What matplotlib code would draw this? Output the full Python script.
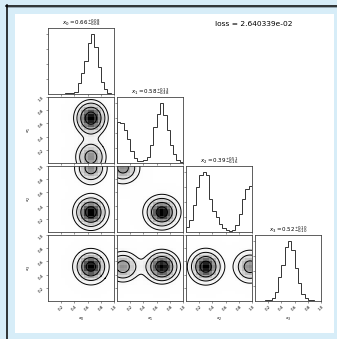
import numpy as np
import matplotlib
matplotlib.use("Agg")
import matplotlib.pyplot as plt
from matplotlib.colors import LinearSegmentedColormap
from matplotlib.lines import Line2D
from matplotlib.patches import Rectangle

# ---- chart content -------------------------------------------------------
axis_labels = ["$x_0$", "$x_1$", "$x_2$", "$x_3$"]
titles = [r"$x_0 = 0.66^{+0.08}_{-0.08}$",
          r"$x_1 = 0.58^{+0.13}_{-0.38}$",
          r"$x_2 = 0.39^{+0.51}_{-0.16}$",
          r"$x_3 = 0.52^{+0.10}_{-0.10}$"]
loss_text = "loss = 2.640339e-02"
tick_values = [0.2, 0.4, 0.6, 0.8, 1.0]
tick_labels = ["0.2", "0.4", "0.6", "0.8", "1.0"]

# 1-D marginal histograms, 20 bins on [0, 1] (relative counts)
hist_x0 = [0.0, 0.0, 0.0, 0.0, 0.0, 0.01, 0.01, 0.02, 0.04, 0.18,
           0.35, 0.55, 0.85, 1.0, 0.78, 0.45, 0.2, 0.08, 0.02, 0.0]
hist_x1 = [0.68, 0.66, 0.55, 0.40, 0.2, 0.08, 0.04, 0.03, 0.05, 0.1,
           0.3, 0.6, 0.82, 1.0, 0.8, 0.55, 0.3, 0.15, 0.05, 0.02]
hist_x2 = [0.08, 0.2, 0.45, 0.75, 0.95, 1.0, 0.95, 0.55, 0.35, 0.25,
           0.14, 0.06, 0.03, 0.02, 0.04, 0.12, 0.3, 0.55, 0.72, 0.77]
hist_x3 = [0.0, 0.0, 0.0, 0.01, 0.02, 0.05, 0.15, 0.4, 0.6, 0.9,
           1.0, 0.85, 0.55, 0.3, 0.12, 0.05, 0.02, 0.01, 0.0, 0.0]
hists = [hist_x0, hist_x1, hist_x2, hist_x3]

# two-component Gaussian model of the joint posterior (smoothed 2-D view)
comp_weights = [0.6, 0.4]
comp_means = [[0.65, 0.68, 0.30, 0.52],
              [0.65, 0.09, 0.97, 0.52]]
comp_sigmas = [[0.14, 0.15, 0.14, 0.14],
               [0.14, 0.15, 0.14, 0.14]]
contour_levels = 1.0 - np.exp(-0.5 * np.arange(0.5, 2.1, 0.5) ** 2)

# ---- figure ----------------------------------------------------------------
W, H = 337, 339
fig = plt.figure(figsize=(W / 100, H / 100), dpi=100, facecolor="#d7edf8")

def px(x0, y0, w, h):
    return [x0 / W, 1 - (y0 + h) / H, w / W, h / H]

fig.patches.append(Rectangle((15 / W, 1 - 333 / H), 319 / W, 319 / H,
                             transform=fig.transFigure, facecolor="white",
                             edgecolor="none", zorder=-5))
fig.lines.append(Line2D([6 / W, 1], [1 - 5.5 / H, 1 - 5.5 / H],
                        transform=fig.transFigure, color="black", lw=1.1,
                        zorder=-4))
fig.lines.append(Line2D([6 / W, 1], [1 - 7 / H, 1 - 7 / H],
                        transform=fig.transFigure, color="#8a9aa4", lw=0.6,
                        zorder=-4))
fig.lines.append(Line2D([6.5 / W, 6.5 / W], [0, 1 - 5 / H],
                        transform=fig.transFigure, color="black", lw=1.1,
                        zorder=-4))

ndim = 4
x_left, y_top, size, step = 48, 28, 66, 69
edges = np.linspace(0, 1, 21)
centers = 0.5 * (edges[1:] + edges[:-1])
fine = np.linspace(0, 1, 201)

density_cmap = LinearSegmentedColormap.from_list(
    "density_cmap", [(0, 0, 0, 1), (1, 1, 1, 0)])

spine_color = "#444444"
tick_fs = 2.8
label_fs = 3.2


def model_density(i, j, gx, gy):
    out = np.zeros_like(gx)
    for w, m, s in zip(comp_weights, comp_means, comp_sigmas):
        out += w / (s[i] * s[j]) * np.exp(-0.5 * ((gx - m[j]) / s[j]) ** 2
                                          - 0.5 * ((gy - m[i]) / s[i]) ** 2)
    return out


def style(ax, row, col):
    for sp in ax.spines.values():
        sp.set_color(spine_color)
        sp.set_linewidth(0.6)
    ax.set_xlim(0, 1)
    ax.set_xticks(tick_values)
    ax.tick_params(length=1.5, width=0.4, color=spine_color, pad=1,
                   labelsize=tick_fs)
    if row == ndim - 1:
        ax.set_xticklabels(tick_labels, rotation=45)
        ax.set_xlabel(axis_labels[col], fontsize=label_fs, labelpad=3)
    else:
        ax.set_xticklabels([])


for i in range(ndim):
    for j in range(i + 1):
        ax = fig.add_axes(px(x_left + j * step, y_top + i * step, size, size))
        style(ax, i, j)
        if i == j:
            ax.stairs(hists[i], edges, color="#333333", lw=0.7)
            ax.set_ylim(0, 1.1 * max(hists[i]))
            ax.set_yticks([0.25, 0.5, 0.75, 1.0])
            ax.set_yticklabels([])
            ax.set_title(titles[i], fontsize=4.0, pad=2)
        else:
            gx, gy = np.meshgrid(centers, centers)
            Hb = model_density(i, j, gx, gy)
            ax.pcolormesh(edges, edges, Hb.max() - Hb, cmap=density_cmap,
                          shading="flat", rasterized=True)
            fx, fy = np.meshgrid(fine, fine)
            Hf = model_density(i, j, fx, fy)
            flat = np.sort(Hf.ravel())[::-1]
            cum = np.cumsum(flat) / flat.sum()
            V = sorted(flat[np.searchsorted(cum, lv)] for lv in contour_levels)
            ax.contour(fx, fy, Hf, V, colors="black", linewidths=0.7)
            ax.set_ylim(0, 1)
            ax.set_yticks(tick_values)
            if j == 0:
                ax.set_yticklabels(tick_labels, rotation=45)
                ax.set_ylabel(axis_labels[i], fontsize=label_fs, labelpad=3)
            else:
                ax.set_yticklabels([])

fig.text(215 / W, 1 - 24 / H, loss_text, fontsize=5.4, va="center",
         ha="left")

fig.savefig("out.png", dpi=100, facecolor=fig.get_facecolor())
